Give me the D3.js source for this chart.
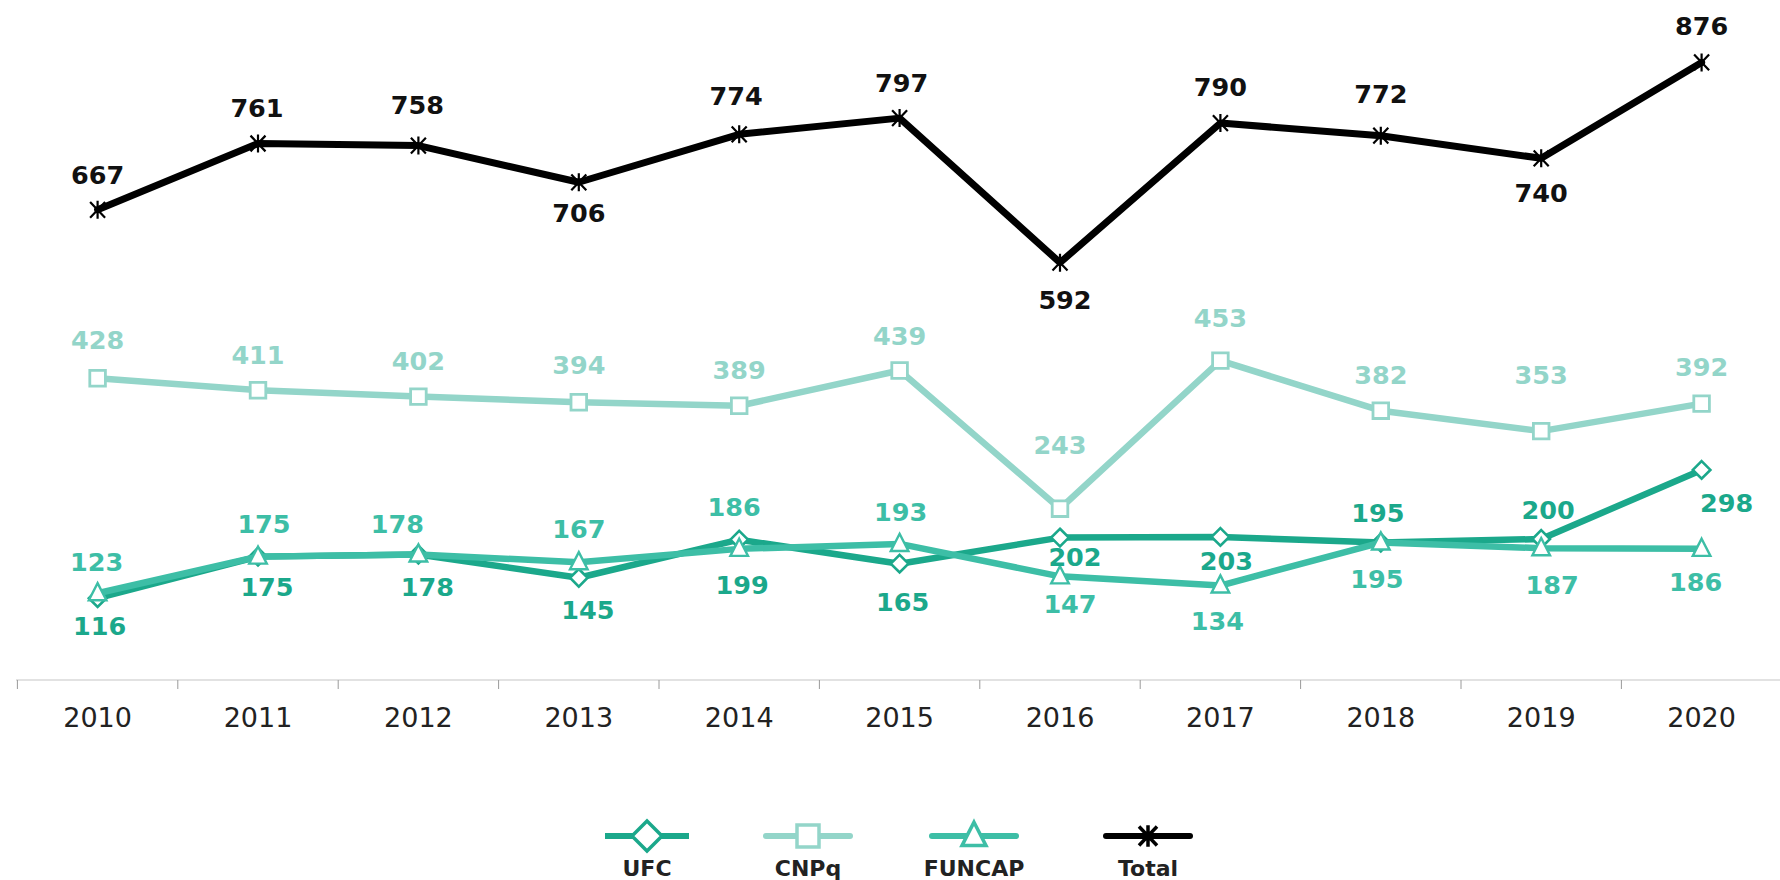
<!DOCTYPE html>
<html>
<head>
<meta charset="utf-8">
<script src="https://cdn.jsdelivr.net/npm/d3@7"></script>
<style>
  html, body { margin: 0; padding: 0; background: #fff; }
  svg { display: block; }
  text { font-family: "DejaVu Sans", Verdana, sans-serif; }
</style>
</head>
<body>
<svg id="chart" width="1780" height="880"></svg>
<script>
// ---------- data ----------
const years  = ["2010","2011","2012","2013","2014","2015","2016","2017","2018","2019","2020"];
const ufc    = [116, 175, 178, 145, 199, 165, 202, 203, 195, 200, 298];
const cnpq   = [428, 411, 402, 394, 389, 439, 243, 453, 382, 353, 392];
const funcap = [123, 175, 178, 167, 186, 193, 147, 134, 195, 187, 186];
const total  = [667, 761, 758, 706, 774, 797, 592, 790, 772, 740, 876];
const seriesNames = ["UFC", "CNPq", "FUNCAP", "Total"];

// ---------- label placement (pixel nudges relative to each marker) ----------
const labelNudge = {
  UFC:    [[2,28],[9,30],[9,32],[9,32],[3,45],[3,38],[15,19],[6,24],[-3,-30],[7,-29],[25,33]],
  CNPq:   [[0,-38],[0,-35],[0,-36],[0,-37],[0,-36],[0,-35],[0,-64],[0,-43],[0,-36],[0,-56],[0,-37]],
  FUNCAP: [[-1,-31],[6,-33],[-21,-31],[0,-33],[-5,-42],[1,-32],[10,27],[-3,35],[-4,36],[11,37],[-6,33]],
  Total:  [[0,-35],[-1,-36],[-1,-41],[0,31],[-3,-39],[2,-35],[5,37],[0,-36],[0,-42],[0,35],[0,-37]]
};

// ---------- symbols (size = half extent in px) ----------
const symDiamond = { draw(c, s) { c.moveTo(0,-s); c.lineTo(s,0); c.lineTo(0,s); c.lineTo(-s,0); c.closePath(); } };
const symSquare  = { draw(c, s) { c.moveTo(-s,-s); c.lineTo(s,-s); c.lineTo(s,s); c.lineTo(-s,s); c.closePath(); } };
const symTri     = { draw(c, s) { c.moveTo(0,-s*1.15); c.lineTo(s,s*0.8); c.lineTo(-s,s*0.8); c.closePath(); } };
const symAst     = { draw(c, s) {
  c.moveTo(0,-s*1.2); c.lineTo(0,s*1.2);
  c.moveTo(-s,-s*1.05); c.lineTo(s,s*1.05);
  c.moveTo(-s,s*1.05); c.lineTo(s,-s*1.05);
} };

const series = [
  { name: "UFC",    values: ufc,    color: "#1ba88b", sym: symDiamond, ms: 8.8, lms: 15, fill: "#fff", msw: 2.6, lw: 6.5, cap: "butt" },
  { name: "CNPq",   values: cnpq,   color: "#93d5c9", sym: symSquare,  ms: 7.8, lms: 11, fill: "#fff", msw: 2.8, lw: 6.5, cap: "round" },
  { name: "FUNCAP", values: funcap, color: "#3dbea6", sym: symTri,     ms: 8.8, lms: 12, fill: "#fff", msw: 2.4, lw: 6.5, cap: "round" },
  { name: "Total",  values: total,  color: "#000000", sym: symAst,     ms: 7.5, lms: 9,  fill: "none", msw: 2.2, lw: 7,   cap: "round" }
];
const labelColor = { UFC: "#1ba88b", CNPq: "#93d5c9", FUNCAP: "#3dbea6", Total: "#111" };

// ---------- layout ----------
const svg = d3.select("#chart");
const x = d3.scaleBand().domain(years).range([17.4, 1781.8]).paddingInner(0).paddingOuter(0);
const y = d3.scaleLinear().domain([0, 900]).range([680, 45.5]);
const cx = d => x(d) + x.bandwidth() / 2;

// axis
const axisG = svg.append("g").attr("transform", "translate(0,680)");
axisG.append("line").attr("x1", 16).attr("x2", 1780).attr("y1", 0).attr("y2", 0)
  .attr("stroke", "#d9d9d9").attr("stroke-width", 1.5);
axisG.selectAll("line.tick").data(years).join("line").attr("class", "tick")
  .attr("x1", d => x(d)).attr("x2", d => x(d)).attr("y1", 0).attr("y2", 9)
  .attr("stroke", "#9a9a9a").attr("stroke-width", 1);
const xAxis = d3.axisBottom(x).tickSize(0).tickPadding(0);
const xa = axisG.append("g").call(xAxis);
xa.select(".domain").remove();
xa.selectAll("text")
  .attr("dy", null).attr("y", 47)
  .attr("font-family", "DejaVu Sans, Verdana, sans-serif")
  .attr("font-size", 27).attr("fill", "#222");

// lines
const drawOrder = ["UFC", "CNPq", "FUNCAP", "Total"];
const lineGen = d3.line().x((d, i) => cx(years[i])).y(d => y(d));
const plot = svg.append("g");
drawOrder.forEach(n => {
  const s = series.find(t => t.name === n);
  const g = plot.append("g");
  g.append("path").datum(s.values).attr("d", lineGen)
    .attr("fill", "none").attr("stroke", s.color).attr("stroke-width", s.lw)
    .attr("stroke-linejoin", "round").attr("stroke-linecap", "round");
  g.selectAll("path.m").data(s.values).join("path").attr("class", "m")
    .attr("d", d3.symbol().type(s.sym).size(s.ms))
    .attr("transform", (d, i) => `translate(${cx(years[i])},${y(d)})`)
    .attr("fill", s.fill).attr("stroke", s.color).attr("stroke-width", s.msw);
});

// labels
const labels = svg.append("g");
series.forEach(s => {
  labels.selectAll(null).data(s.values).join("text")
    .attr("x", (d, i) => cx(years[i]) + labelNudge[s.name][i][0])
    .attr("y", (d, i) => y(d) + labelNudge[s.name][i][1])
    .attr("dy", "0.36em")
    .attr("text-anchor", "middle")
    .attr("font-size", 25.5).attr("font-weight", "bold")
    .attr("fill", labelColor[s.name])
    .text(d => d);
});

// legend
const legendX = [647, 808, 974, 1148];
const leg = svg.append("g");
series.forEach((s, i) => {
  const g = leg.append("g").attr("transform", `translate(${legendX[i]},0)`);
  g.append("line").attr("x1", -42).attr("x2", 42).attr("y1", 836).attr("y2", 836)
    .attr("stroke", s.color).attr("stroke-width", 6).attr("stroke-linecap", s.cap);
  g.append("path").attr("d", d3.symbol().type(s.sym).size(s.lms)())
    .attr("transform", "translate(0,836)")
    .attr("fill", s.fill).attr("stroke", s.color).attr("stroke-width", 3.5);
  g.append("text").attr("x", 0).attr("y", 876).attr("text-anchor", "middle")
    .attr("font-size", 22).attr("font-weight", "bold").attr("fill", "#222")
    .text(s.name);
});
</script>
</body>
</html>
